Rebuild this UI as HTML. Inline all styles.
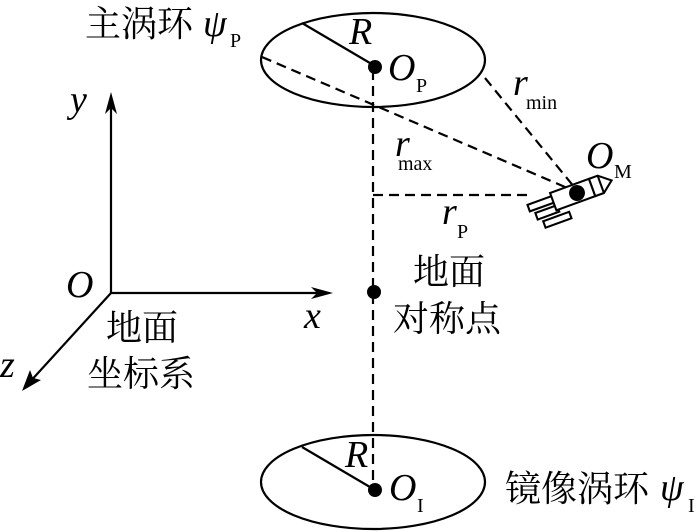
<!DOCTYPE html>
<html><head><meta charset="utf-8"><style>body{margin:0;background:#fff}svg{display:block}
text{font-family:"Liberation Serif","Noto Serif CJK SC",serif;fill:#000}
.i{font-style:italic}
.s{font-size:20px}
.b{font-size:38px}
.c{font-size:36px}
</style></head><body>
<svg width="700" height="532" viewBox="0 0 700 532" xmlns="http://www.w3.org/2000/svg">
<g fill="none" stroke="#000" stroke-width="2.2">
<ellipse cx="373" cy="60" rx="112" ry="47"/>
<ellipse cx="373" cy="482" rx="112" ry="47"/>
<line x1="302" y1="23" x2="375" y2="66"/>
<line x1="302" y1="447" x2="375" y2="490"/>
<g stroke-dasharray="10,6">
<line x1="373" y1="70" x2="373" y2="488"/>
<line x1="262" y1="57" x2="572" y2="190"/>
<line x1="373" y1="195" x2="532" y2="195"/>
<line x1="485" y1="78" x2="575" y2="188"/>
</g>
<line x1="111" y1="293" x2="111" y2="100"/>
<line x1="111" y1="293" x2="325" y2="293"/>
<line x1="111" y1="293" x2="28" y2="384"/>
</g>
<g fill="#000">
<polygon points="111,92 105,114 111,108 117,114"/>
<polygon points="333,293 311,287 317,293 311,299"/>
<polygon points="22,391 30,370 33,378 41,380"/>
<circle cx="375" cy="67" r="7"/>
<circle cx="374" cy="292" r="7"/>
<circle cx="375" cy="490" r="7"/>
</g>
<g transform="translate(577,193) rotate(-20) scale(1.15)" fill="#fff" stroke="#000" stroke-width="1.8">
<rect x="-44" y="-5" width="24" height="6"/>
<rect x="-40" y="4" width="20" height="6"/>
<rect x="-36" y="13" width="24" height="6"/>
<rect x="-22" y="-8" width="36" height="16"/>
<polygon points="14,-8 22,-8 32,0 22,8 14,8"/>
<line x1="22" y1="-8" x2="22" y2="8"/>
<circle cx="0" cy="0" r="6" fill="#000"/>
</g>
<text class="c" x="85" y="36">主涡环</text>
<text class="i b" x="203" y="36">ψ</text>
<text class="s" x="230" y="47">P</text>
<text class="i b" x="349" y="44">R</text>
<text class="i b" x="345" y="467">R</text>
<text class="i b" x="388" y="80">O</text>
<text class="s" x="416" y="92">P</text>
<text class="i b" x="513" y="95">r</text>
<text class="s" x="526" y="109">min</text>
<text class="i b" x="395" y="156">r</text>
<text class="s" x="398" y="170">max</text>
<text class="i b" x="586" y="168">O</text>
<text class="s" x="614" y="178">M</text>
<text class="i b" x="442" y="224">r</text>
<text class="s" x="457" y="238">P</text>
<text class="i b" x="70" y="112">y</text>
<text class="i b" x="66" y="297">O</text>
<text class="i b" x="304" y="328">x</text>
<text class="i b" x="0" y="377">z</text>
<text class="c" x="106" y="340">地面</text>
<text class="c" x="87" y="386">坐标系</text>
<text class="c" x="413" y="284">地面</text>
<text class="c" x="393" y="331">对称点</text>
<text class="i b" x="389" y="500">O</text>
<text class="s" x="417" y="512">I</text>
<text class="c" x="505" y="501">镜像涡环</text>
<text class="i b" x="660" y="500">ψ</text>
<text class="s" x="688" y="512">I</text>
</svg>
</body></html>
